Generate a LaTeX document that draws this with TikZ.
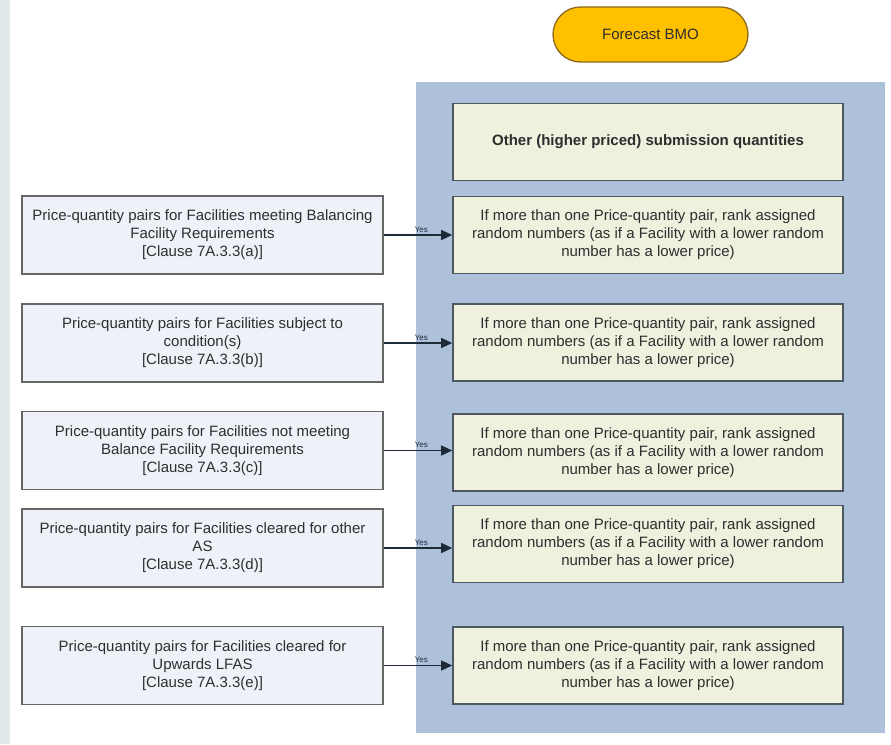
\documentclass[tikz,border=0pt]{standalone}
\usepackage{fontspec}
\usepackage{xcolor}
\setmainfont{Liberation Sans}
\usetikzlibrary{arrows.meta}

\definecolor{stripgray}{HTML}{E1E8EC}
\definecolor{panelblue}{HTML}{AEC1DA}
\definecolor{srcfill}{HTML}{EEF2F8}
\definecolor{srcline}{HTML}{666666}
\definecolor{rankfill}{HTML}{EFF0DE}
\definecolor{rankline}{HTML}{4E5860}
\definecolor{ovalfill}{HTML}{FFC000}
\definecolor{ovalline}{HTML}{8A6A1C}
\definecolor{textgray}{HTML}{2E2E2E}
\definecolor{arrowdark}{HTML}{1F2A38}

\tikzset{
  srcbox/.style={draw=srcline, line width=1.4pt, fill=srcfill, text=textgray,
    minimum width=361pt, minimum height=78pt, align=center,
    font=\fontsize{15}{18}\selectfont},
  rankbox/.style={draw=rankline, line width=1.6pt, fill=rankfill, text=textgray,
    minimum width=390pt, minimum height=77pt, align=center,
    font=\fontsize{15}{18}\selectfont},
  yesarrow/.style={draw=arrowdark, line width=1.3pt, -{Triangle[length=11pt,width=10pt]}},
  yeslabel/.style={font=\fontsize{8}{9}\selectfont, text=arrowdark, above, pos=0.55, inner sep=2pt}
}

\begin{document}
\begin{tikzpicture}[x=1pt, y=-1pt]
  % Fix the page size and the background
  \useasboundingbox[fill=white] (0,0) rectangle (891,744);
  \fill[stripgray] (0,0) rectangle (10,744);

  % Blue panel behind the ranking boxes
  \fill[panelblue] (416,82) rectangle (885,733);

  % Start terminal
  \node[draw=ovalline, line width=1.3pt, fill=ovalfill, rounded corners=27.5pt,
    minimum width=195pt, minimum height=55pt, text=textgray,
    font=\fontsize{15}{18}\selectfont] (bmo) at (650.5,34.5) {Forecast BMO};

  % Boxes inside the panel
  \node[rankbox, font=\fontsize{15}{18}\selectfont\bfseries] (other) at (648,142) {Other (higher priced) submission quantities};
  \node[rankbox] (rankA) at (648,235) {If more than one Price-quantity pair, rank assigned\\random numbers (as if a Facility with a lower random\\number has a lower price)};
  \node[rankbox] (rankB) at (648,342.5) {If more than one Price-quantity pair, rank assigned\\random numbers (as if a Facility with a lower random\\number has a lower price)};
  \node[rankbox] (rankC) at (648,452.5) {If more than one Price-quantity pair, rank assigned\\random numbers (as if a Facility with a lower random\\number has a lower price)};
  \node[rankbox] (rankD) at (648,544) {If more than one Price-quantity pair, rank assigned\\random numbers (as if a Facility with a lower random\\number has a lower price)};
  \node[rankbox] (rankE) at (648,665.5) {If more than one Price-quantity pair, rank assigned\\random numbers (as if a Facility with a lower random\\number has a lower price)};

  % Price-quantity pair boxes on the left
  \node[srcbox] (pairsA) at (202.5,235) {Price-quantity pairs for Facilities meeting Balancing\\Facility Requirements\\{[}Clause 7A.3.3(a){]}};
  \node[srcbox] (pairsB) at (202.5,343) {Price-quantity pairs for Facilities subject to\\condition(s)\\{[}Clause 7A.3.3(b){]}};
  \node[srcbox] (pairsC) at (202.5,450.5) {Price-quantity pairs for Facilities not meeting\\Balance Facility Requirements\\{[}Clause 7A.3.3(c){]}};
  \node[srcbox] (pairsD) at (202.5,548) {Price-quantity pairs for Facilities cleared for other\\AS\\{[}Clause 7A.3.3(d){]}};
  \node[srcbox] (pairsE) at (202.5,665.5) {Price-quantity pairs for Facilities cleared for\\Upwards LFAS\\{[}Clause 7A.3.3(e){]}};

  % Yes arrows
  \draw[yesarrow] (pairsA.east) -- (pairsA.east -| rankA.west) node[yeslabel] {Yes};
  \draw[yesarrow] (pairsB.east) -- (pairsB.east -| rankB.west) node[yeslabel] {Yes};
  \draw[yesarrow] (pairsC.east) -- (pairsC.east -| rankC.west) node[yeslabel] {Yes};
  \draw[yesarrow] (pairsD.east) -- (pairsD.east -| rankD.west) node[yeslabel] {Yes};
  \draw[yesarrow] (pairsE.east) -- (pairsE.east -| rankE.west) node[yeslabel] {Yes};
\end{tikzpicture}
\end{document}
